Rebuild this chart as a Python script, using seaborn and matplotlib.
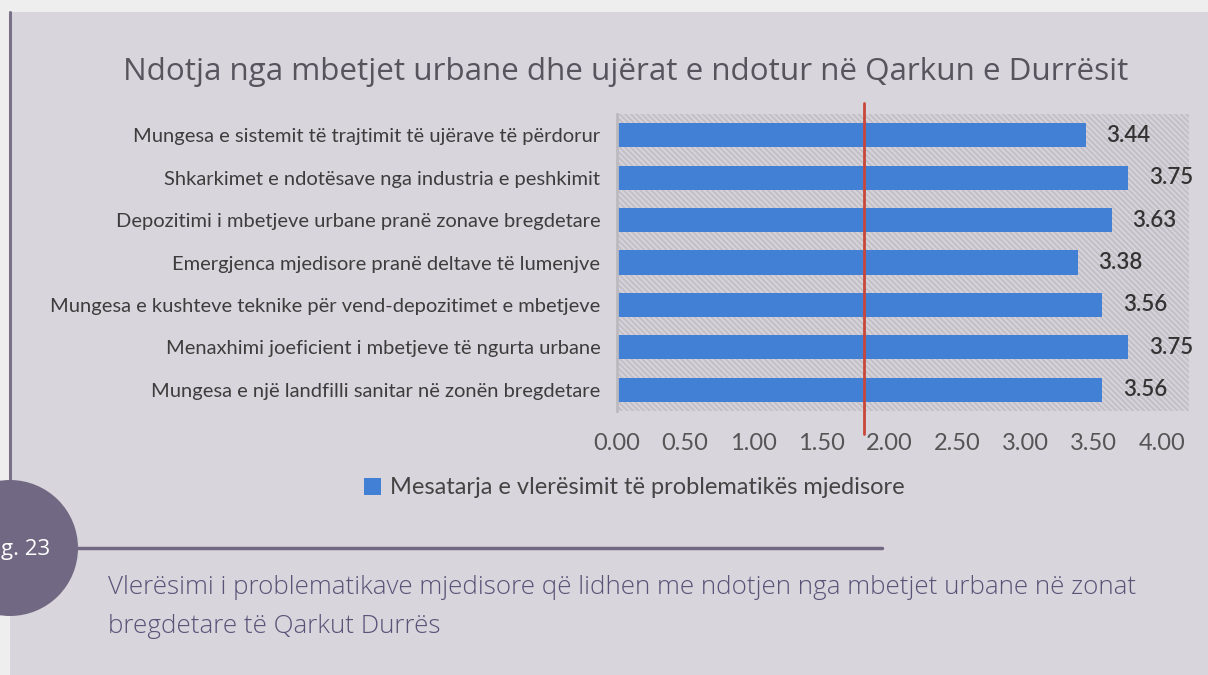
import matplotlib
matplotlib.use("Agg")
import matplotlib.pyplot as plt
import seaborn as sns
import pandas as pd
from matplotlib.patches import Rectangle, Ellipse
from matplotlib.lines import Line2D

categories = [
    "Mungesa e sistemit të trajtimit të ujërave të përdorur",
    "Shkarkimet e ndotësave nga industria e peshkimit",
    "Depozitimi i mbetjeve urbane pranë zonave bregdetare",
    "Emergjenca mjedisore pranë deltave të lumenjve",
    "Mungesa e kushteve teknike për vend-depozitimet e mbetjeve",
    "Menaxhimi joeficient i mbetjeve të ngurta urbane",
    "Mungesa e një landfilli sanitar në zonën bregdetare",
]
values = [3.44, 3.75, 3.63, 3.38, 3.56, 3.75, 3.56]
x_ticks = [0.0, 0.5, 1.0, 1.5, 2.0, 2.5, 3.0, 3.5, 4.0]
series_name = "Mesatarja e vlerësimit të problematikës mjedisore"
ref_line = 1.81
title = "Ndotja nga mbetjet urbane dhe ujërat e ndotur në Qarkun e Durrësit"
caption = ("Vlerësimi i problematikave mjedisore që lidhen me ndotjen nga mbetjet urbane në zonat\n"
           "bregdetare të Qarkut Durrës")
fig_label = "Fig. 23"

BG = "#eeeeee"
PANEL = "#d8d5dc"
BAR = "#4280d6"
RED = "#c9473a"
PURPLE = "#716983"

sns.set_theme(style="white")
plt.rcParams['font.family'] = ['Lato', 'DejaVu Sans']
plt.rcParams['hatch.linewidth'] = 1.6

W, H = 1208, 675
fig = plt.figure(figsize=(W / 100, H / 100), dpi=100)
fig.patch.set_facecolor(BG)

def fx(px):
    return px / W

def fy(py):
    return 1 - py / H

# panel
fig.add_artist(Rectangle((fx(10), 0), 1 - fx(10), fy(12), transform=fig.transFigure,
                         facecolor=PANEL, edgecolor="none", zorder=0))
# left vertical line
fig.add_artist(Line2D([fx(10), fx(10)], [fy(12), fy(500)], transform=fig.transFigure,
                      color="#7a7088", lw=2.2, zorder=1))

xmax = 4.2
ax = fig.add_axes([fx(617), fy(411), fx(136.25 * xmax), (411 - 114) / H])
ax.set_facecolor("none")
ax.add_patch(Rectangle((0, 0), 1, 1, transform=ax.transAxes, facecolor=PANEL,
                       edgecolor="#c3c0c7", hatch="\\\\\\\\\\\\", lw=0, zorder=0))

df = pd.DataFrame({"cat": categories, "val": values})
sns.barplot(data=df, y="cat", x="val", orient="h", color=BAR, saturation=1,
            width=0.57, ax=ax, zorder=2, label=series_name, linewidth=0)
ax.set_xlim(0, xmax)
ax.set_ylim(len(categories) - 0.5, -0.5)
ax.set_xticks(x_ticks)
ax.set_xticklabels([f"{t:.2f}" for t in x_ticks], fontsize=17, color="#555555")
ax.tick_params(axis="x", length=0, pad=16)
ax.tick_params(axis="y", length=0, pad=12, labelsize=14.5, labelcolor="#3d3d3d")
ax.set_xlabel("")
ax.set_ylabel("")
for s in ["top", "right", "bottom"]:
    ax.spines[s].set_visible(False)
ax.spines["left"].set_color("#bdbabf")
ax.spines["left"].set_linewidth(2)
ax.spines["left"].set_zorder(3)

for i, v in enumerate(values):
    ax.annotate(f"{v:.2f}", (v, i), xytext=(15, 0), textcoords="offset points",
                va="center", ha="left", fontsize=16, fontweight="semibold", color="#333333")

ax.plot([ref_line, ref_line], [1 + 11 / 297, -23 / 297], transform=ax.get_xaxis_transform(),
        color=RED, lw=2, clip_on=False, zorder=4)

if ax.get_legend():
    ax.get_legend().remove()
leg = fig.legend(handles=[Rectangle((0, 0), 1, 1, facecolor=BAR, edgecolor="none", lw=0)],
                 labels=[series_name],
                 loc="center", bbox_to_anchor=(fx(634), fy(488)), frameon=False,
                 prop={"size": 17}, handlelength=0.75, handleheight=0.75,
                 handletextpad=0.35, labelcolor="#444444")

fig.text(fx(626), fy(72), title, ha="center", va="center", fontsize=22.6,
         color="#57545e", family=["Open Sans", "DejaVu Sans"], fontweight="medium")

# caption block
fig.add_artist(Line2D([fx(70), fx(882)], [fy(548), fy(548)], transform=fig.transFigure,
                      color=PURPLE, lw=2.5, zorder=1))
fig.add_artist(Ellipse((fx(10), fy(548)), width=2 * 68 / W, height=2 * 68 / H,
                       transform=fig.transFigure, facecolor=PURPLE, edgecolor="none", zorder=2))
fig.text(fx(50), fy(550), fig_label, ha="right", va="center", fontsize=16,
         color="white", zorder=3, family=["Open Sans", "DejaVu Sans"])
fig.text(fx(108), fy(607), caption, ha="left", va="center", fontsize=18.7,
         color="#5a5378", linespacing=1.7, family=["Open Sans", "DejaVu Sans"],
         fontweight="light")

fig.savefig("out.png", dpi=100, facecolor=fig.get_facecolor())
